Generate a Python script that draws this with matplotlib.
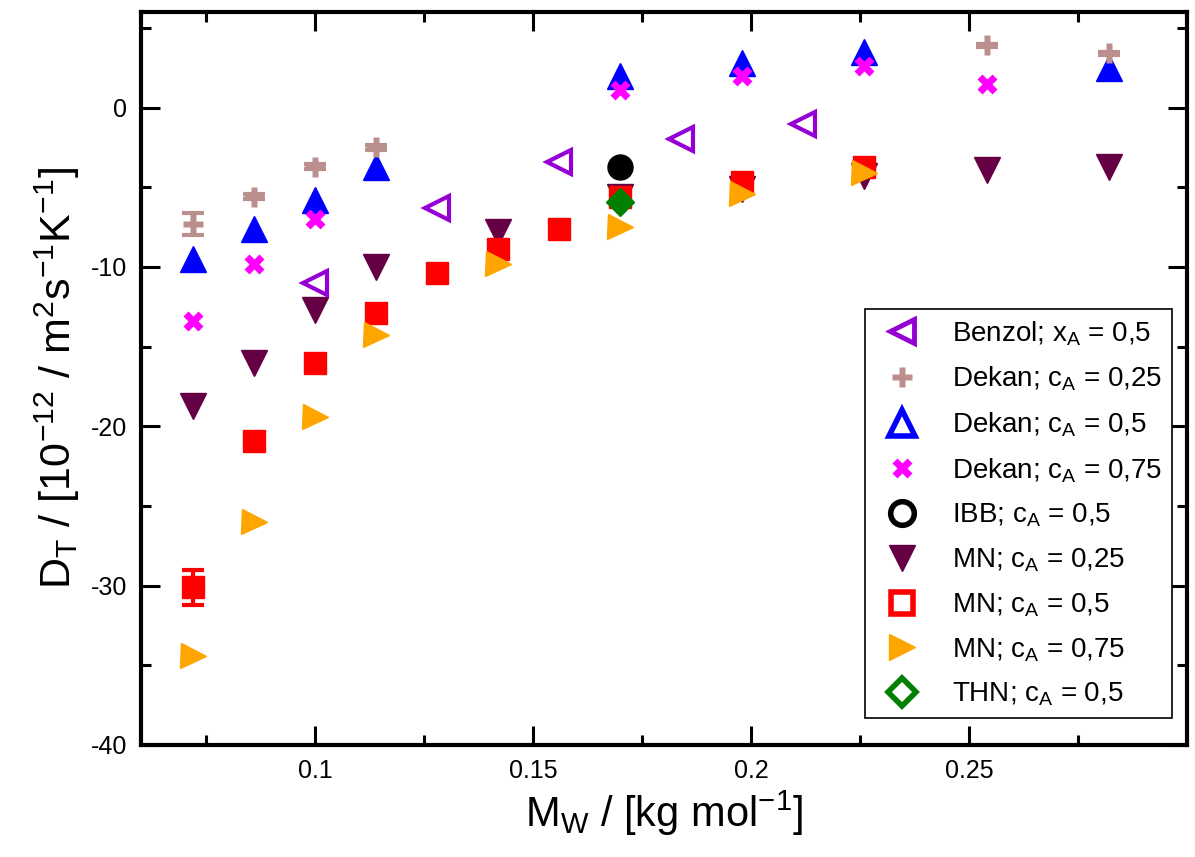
import numpy as np
import matplotlib
matplotlib.use("Agg")
import matplotlib.pyplot as plt
from matplotlib.lines import Line2D
from matplotlib.ticker import MultipleLocator, FixedLocator

plt.rcParams['font.family'] = ['Liberation Sans', 'DejaVu Sans']
plt.rcParams['mathtext.fontset'] = 'custom'
plt.rcParams['mathtext.rm'] = 'Liberation Sans'
plt.rcParams['mathtext.it'] = 'Liberation Sans'
plt.rcParams['axes.unicode_minus'] = False

# data (molar mass in kg/mol, thermal diffusion coefficient)
benzol_x = [0.100, 0.128, 0.156, 0.184, 0.212]
benzol_y = [-11.0, -6.3, -3.4, -2.0, -1.0]

dekan25_x = [0.072, 0.086, 0.100, 0.114, 0.254, 0.282]
dekan25_y = [-7.3, -5.6, -3.7, -2.5, 3.9, 3.4]
dekan25_err = [0.7, 0.15, 0.15, 0.15, 0.1, 0.1]

dekan50_x = [0.072, 0.086, 0.100, 0.114, 0.170, 0.198, 0.226, 0.282]
dekan50_y = [-9.5, -7.6, -5.8, -3.7, 2.0, 2.8, 3.5, 2.5]

dekan75_x = [0.072, 0.086, 0.100, 0.170, 0.198, 0.226, 0.254]
dekan75_y = [-13.4, -9.8, -7.0, 1.1, 2.0, 2.6, 1.5]

ibb_x = [0.170]
ibb_y = [-3.7]

mn25_x = [0.072, 0.086, 0.100, 0.114, 0.142, 0.170, 0.198, 0.226, 0.254, 0.282]
mn25_y = [-18.7, -16.0, -12.7, -10.0, -7.8, -5.6, -5.1, -4.3, -3.9, -3.7]

mn50_x = [0.072, 0.086, 0.100, 0.114, 0.128, 0.142, 0.156, 0.170, 0.198, 0.226]
mn50_y = [-30.1, -20.9, -16.0, -12.9, -10.4, -8.9, -7.6, -5.6, -4.7, -3.7]
mn50_err = [1.1, 0.3, 0.3, 0.3, 0.2, 0.3, 0.2, 0.2, 0.2, 0.2]

mn75_x = [0.072, 0.086, 0.100, 0.114, 0.142, 0.170, 0.198, 0.226]
mn75_y = [-34.4, -26.0, -19.4, -14.3, -9.8, -7.5, -5.4, -4.1]

thn_x = [0.170]
thn_y = [-5.9]

labels = ['Benzol; x$_\\mathregular{A}$ = 0,5',
          'Dekan; c$_\\mathregular{A}$ = 0,25',
          'Dekan; c$_\\mathregular{A}$ = 0,5',
          'Dekan; c$_\\mathregular{A}$ = 0,75',
          'IBB; c$_\\mathregular{A}$ = 0,5',
          'MN; c$_\\mathregular{A}$ = 0,25',
          'MN; c$_\\mathregular{A}$ = 0,5',
          'MN; c$_\\mathregular{A}$ = 0,75',
          'THN; c$_\\mathregular{A}$ = 0,5']

c_benzol = '#9400D3'
c_d25 = '#BC8F8F'
c_d50 = '#0000FF'
c_d75 = '#FF00FF'
c_ibb = '#000000'
c_mn25 = '#660044'
c_mn50 = '#FF0000'
c_mn75 = '#FFA500'
c_thn = '#008000'

fig = plt.figure(figsize=(11.95, 8.57), dpi=100)
ax = fig.add_axes([0.118, 0.1307, 0.8753, 0.8553])

ax.plot(mn75_x, mn75_y, ls='none', marker='>', ms=18, color=c_mn75, zorder=3)
ax.plot(dekan75_x, dekan75_y, ls='none', marker='X', ms=15, color=c_d75, mec='none', zorder=3)
ax.plot(dekan50_x, dekan50_y, ls='none', marker='^', ms=19, color=c_d50, zorder=2)
ax.errorbar(dekan25_x, dekan25_y, yerr=dekan25_err, ls='none', marker='P', ms=15,
            color=c_d25, mec='none', capsize=8, capthick=3, elinewidth=3, zorder=2.5)
ax.plot(mn25_x, mn25_y, ls='none', marker='v', ms=19, color=c_mn25, zorder=2)
ax.errorbar(mn50_x, mn50_y, yerr=mn50_err, ls='none', marker='s', ms=16,
            color=c_mn50, capsize=8, capthick=3, elinewidth=3, zorder=2.6)
ax.plot(benzol_x, benzol_y, ls='none', marker='<', ms=17, mfc='white', mec=c_benzol,
        mew=3, zorder=3)
ax.plot(ibb_x, ibb_y, ls='none', marker='o', ms=18, color=c_ibb, zorder=3)
ax.plot(thn_x, thn_y, ls='none', marker='D', ms=14, color=c_thn, zorder=4)

handles = [
    Line2D([], [], ls='none', marker='<', ms=17, mfc='white', mec=c_benzol, mew=3.5),
    Line2D([], [], ls='none', marker='P', ms=15, color=c_d25, mec='none'),
    Line2D([], [], ls='none', marker='^', ms=19, mfc='white', mec=c_d50, mew=4),
    Line2D([], [], ls='none', marker='X', ms=15, color=c_d75, mec='none'),
    Line2D([], [], ls='none', marker='o', ms=17, mfc='white', mec=c_ibb, mew=4),
    Line2D([], [], ls='none', marker='v', ms=19, color=c_mn25),
    Line2D([], [], ls='none', marker='s', ms=16, mfc='white', mec=c_mn50, mew=4),
    Line2D([], [], ls='none', marker='>', ms=19, color=c_mn75),
    Line2D([], [], ls='none', marker='D', ms=14, mfc='white', mec=c_thn, mew=4),
]
leg = ax.legend(handles, labels, loc='lower right', bbox_to_anchor=(0.9857, 0.0368),
                borderaxespad=0, fontsize=20, fancybox=False, frameon=True,
                edgecolor='black', framealpha=1, labelspacing=0.62,
                handletextpad=0.8, borderpad=0.35, handlelength=2.0)
leg.get_frame().set_linewidth(1.2)

ax.set_xlim(0.06, 0.3)
ax.set_ylim(-40, 6)
ax.xaxis.set_major_locator(FixedLocator([0.1, 0.15, 0.2, 0.25]))
ax.xaxis.set_minor_locator(FixedLocator([0.075, 0.125, 0.175, 0.225, 0.275]))
ax.yaxis.set_major_locator(MultipleLocator(10))
ax.yaxis.set_minor_locator(MultipleLocator(5))
ax.set_xticklabels(['0.1', '0.15', '0.2', '0.25'])

ax.tick_params(which='both', direction='in', top=True, right=True, labelsize=18)
ax.tick_params(which='major', length=14, width=2.2, pad=10)
ax.tick_params(which='minor', length=7, width=2.2)
for s in ax.spines.values():
    s.set_linewidth(3)

ax.set_xlabel('M$_\\mathregular{W}$ / [kg mol$^\\mathregular{-1}$]', fontsize=30, labelpad=4)
ax.set_ylabel('D$_\\mathregular{T}$ / [10$^\\mathregular{-12}$ / m$^\\mathregular{2}$s$^\\mathregular{-1}$K$^\\mathregular{-1}$]',
              fontsize=31, labelpad=6)

fig.savefig('out.png', dpi=100)
